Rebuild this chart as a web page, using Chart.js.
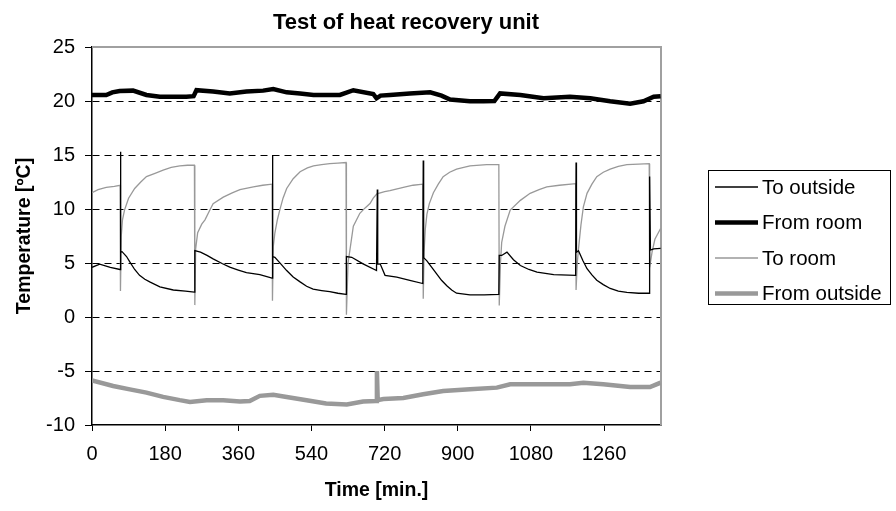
<!DOCTYPE html>
<html>
<head>
<meta charset="utf-8">
<script src="https://cdn.jsdelivr.net/npm/chart.js@4.4.1/dist/chart.umd.min.js"></script>
<style>
  html, body { margin: 0; padding: 0; background: #fff; }
  #wrap { width: 896px; height: 511px; position: relative; }
</style>
</head>
<body>
<div id="wrap"><canvas id="heatChart" width="896" height="511"></canvas></div>
<script>
// tick labels
var xTicks = [0, 180, 360, 540, 720, 900, 1080, 1260];
var yTicks = [-10, -5, 0, 5, 10, 15, 20, 25];

// To outside (thin black)
var toOutsideT = [0, 19, 45, 69, 70, 71, 74, 85, 93, 105, 117, 130, 142, 167, 200, 230, 252, 253, 267, 283, 298, 320, 339, 360, 380, 413, 443, 444, 445, 450, 465, 479, 495, 512, 528, 544, 565, 585, 605, 625, 626, 639, 667, 700, 702, 703, 709, 721, 750, 782, 814, 815, 816, 824, 836, 848, 860, 873, 885, 897, 930, 965, 1001, 1002, 1008, 1021, 1037, 1054, 1075, 1095, 1136, 1190, 1191, 1192, 1197, 1208, 1218, 1230, 1242, 1258, 1275, 1295, 1316, 1345, 1371, 1372, 1374, 1382, 1399];
var toOutsideV = [4.6, 4.9, 4.6, 4.4, 15.3, 6.0, 6.05, 5.6, 5.1, 4.4, 3.86, 3.5, 3.25, 2.8, 2.5, 2.4, 2.3, 6.14, 6.0, 5.7, 5.38, 4.95, 4.62, 4.35, 4.1, 3.92, 3.6, 15.0, 5.6, 5.53, 4.9, 4.3, 3.7, 3.25, 2.85, 2.58, 2.45, 2.34, 2.2, 2.1, 5.6, 5.53, 4.92, 4.3, 11.8, 4.9, 4.92, 3.86, 3.7, 3.4, 3.1, 14.5, 5.5, 5.2, 4.6, 4.0, 3.4, 2.9, 2.5, 2.2, 2.04, 2.05, 2.1, 5.7, 5.7, 6.0, 5.3, 4.77, 4.4, 4.16, 3.92, 3.86, 14.3, 6.0, 6.14, 5.2, 4.47, 3.9, 3.4, 3.0, 2.64, 2.4, 2.28, 2.2, 2.2, 13.0, 6.2, 6.3, 6.35];

// From room (thick black)
var fromRoomT = [0, 35, 50, 68, 101, 134, 167, 200, 232, 250, 257, 298, 339, 380, 421, 446, 479, 512, 545, 610, 643, 692, 700, 710, 733, 782, 832, 860, 881, 930, 963, 990, 1004, 1054, 1111, 1176, 1226, 1275, 1324, 1357, 1382, 1399];
var fromRoomV = [20.56, 20.56, 20.8, 20.93, 20.96, 20.56, 20.4, 20.4, 20.4, 20.45, 21.0, 20.87, 20.7, 20.87, 20.96, 21.1, 20.8, 20.7, 20.56, 20.56, 21.0, 20.65, 20.25, 20.5, 20.56, 20.7, 20.8, 20.5, 20.13, 19.97, 19.97, 20.0, 20.7, 20.56, 20.25, 20.4, 20.25, 19.97, 19.75, 19.97, 20.4, 20.45];

// To room (thin grey)
var toRoomT = [0, 15, 35, 55, 69, 70, 72, 75, 80, 90, 105, 120, 134, 155, 175, 195, 216, 235, 252, 253, 255, 260, 270, 278, 290, 298, 323, 345, 364, 397, 420, 443, 444, 446, 450, 456, 462, 470, 479, 495, 512, 530, 545, 565, 585, 605, 625, 626, 630, 635, 643, 659, 672, 684, 692, 701, 720, 733, 766, 790, 814, 815, 817, 820, 824, 830, 840, 852, 864, 880, 897, 930, 971, 1001, 1002, 1005, 1008, 1016, 1029, 1054, 1078, 1100, 1119, 1150, 1190, 1191, 1194, 1197, 1203, 1209, 1218, 1230, 1242, 1258, 1275, 1295, 1316, 1345, 1371, 1372, 1378, 1385, 1399];
var toRoomV = [11.5, 11.8, 12.0, 12.1, 12.2, 2.4, 7.5, 9.0, 9.9, 11.0, 11.9, 12.5, 13.0, 13.3, 13.6, 13.85, 14.0, 14.05, 14.05, 1.1, 6.3, 7.8, 8.6, 9.0, 9.9, 10.5, 11.1, 11.5, 11.8, 12.05, 12.2, 12.3, 1.5, 6.5, 7.8, 9.0, 9.9, 11.0, 11.9, 12.8, 13.45, 13.8, 14.0, 14.1, 14.2, 14.25, 14.3, 0.2, 5.0, 6.3, 8.4, 9.6, 10.1, 10.5, 11.0, 11.4, 11.6, 11.7, 12.0, 12.2, 12.3, 1.7, 6.0, 8.1, 9.5, 10.5, 11.5, 12.3, 13.0, 13.4, 13.7, 14.0, 14.1, 14.1, 1.06, 5.0, 6.9, 8.4, 9.9, 10.8, 11.45, 11.8, 12.05, 12.2, 12.35, 2.5, 5.0, 6.3, 8.5, 10.2, 11.45, 12.3, 13.0, 13.4, 13.7, 13.95, 14.1, 14.15, 14.2, 4.6, 6.0, 7.2, 8.2];

// From outside (thick grey)
var fromOutsideT = [0, 52, 93, 134, 175, 216, 241, 282, 323, 364, 388, 413, 446, 479, 528, 576, 627, 667, 699, 701, 703, 717, 766, 815, 864, 930, 996, 1029, 1095, 1176, 1209, 1258, 1324, 1373, 1399];
var fromOutsideV = [-5.87, -6.39, -6.7, -7.0, -7.4, -7.7, -7.86, -7.7, -7.7, -7.83, -7.77, -7.3, -7.2, -7.4, -7.7, -8.0, -8.1, -7.83, -7.77, -5.0, -7.7, -7.6, -7.5, -7.16, -6.85, -6.7, -6.54, -6.23, -6.23, -6.23, -6.08, -6.23, -6.48, -6.48, -6.08];

var seriesNames = ['To outside', 'From room', 'To room', 'From outside'];

function pts(ts, vs) {
  return ts.map(function(t, i) { return {x: t, y: vs[i]}; });
}

var FONT = "'Liberation Sans', Arial, sans-serif";

// frame (grey top/right), legend box and title
var framePlugin = {
  id: 'frame',
  beforeDatasetsDraw: function(chart) {
    var a = chart.chartArea, ctx = chart.ctx;
    ctx.save();
    ctx.strokeStyle = '#a0a0a0';
    ctx.lineWidth = 2;
    ctx.beginPath();
    ctx.moveTo(a.left, a.top);
    ctx.lineTo(a.right, a.top);
    ctx.lineTo(a.right, a.bottom);
    ctx.stroke();
    ctx.restore();
  },
  afterDraw: function(chart) {
    var ctx = chart.ctx;
    var ds = chart.data.datasets;
    ctx.save();
    ctx.strokeStyle = '#000';
    ctx.lineWidth = 1;
    ctx.strokeRect(708.5, 170.5, 182, 134);
    ctx.font = '20.5px ' + FONT;
    ctx.textBaseline = 'middle';
    ctx.fillStyle = '#000';
    for (var i = 0; i < ds.length; i++) {
      var y = 187 + i * 35.5;
      ctx.strokeStyle = ds[i].borderColor;
      ctx.lineWidth = ds[i].borderWidth;
      ctx.beginPath();
      ctx.moveTo(715, y);
      ctx.lineTo(758, y);
      ctx.stroke();
      ctx.fillText(ds[i].label, 762, y + 1);
    }
    // chart title
    ctx.font = 'bold 22px ' + FONT;
    ctx.textAlign = 'center';
    ctx.fillText('Test of heat recovery unit', 406, 23);
    ctx.restore();
  }
};

var ctx = document.getElementById('heatChart').getContext('2d');
var myChart = new Chart(ctx, {
  type: 'line',
  data: {
    datasets: [{
      label: seriesNames[0],
      data: pts(toOutsideT, toOutsideV),
      borderColor: '#000000',
      borderWidth: 1.3
    }, {
      label: seriesNames[1],
      data: pts(fromRoomT, fromRoomV),
      borderColor: '#000000',
      borderWidth: 4.5
    }, {
      label: seriesNames[2],
      data: pts(toRoomT, toRoomV),
      borderColor: '#999999',
      borderWidth: 1.3
    }, {
      label: seriesNames[3],
      data: pts(fromOutsideT, fromOutsideV),
      borderColor: '#999999',
      borderWidth: 4.5
    }]
  },
  options: {
    responsive: false,
    animation: false,
    parsing: false,
    elements: { point: { radius: 0 }, line: { tension: 0, fill: false } },
    layout: { padding: { top: 47, right: 235, left: 0, bottom: 0 } },
    plugins: { legend: { display: false }, tooltip: { enabled: false }, title: { display: false } },
    scales: {
      x: {
        type: 'linear',
        min: 0,
        max: 1400,
        afterBuildTicks: function(scale) {
          scale.ticks = xTicks.map(function(v) { return {value: v}; });
        },
        afterFit: function(scale) { scale.height = 86; },
        grid: { drawOnChartArea: false, tickLength: 6, tickColor: '#000', color: '#000' },
        border: { color: '#000', width: 1.5 },
        ticks: {
          color: '#000', font: { family: FONT, size: 20 }, padding: 11, maxRotation: 0, autoSkip: false,
          callback: function(v) { return String(v); }
        },
        title: { display: true, text: 'Time [min.]', color: '#000', font: { family: FONT, size: 19.5, weight: 'bold' }, padding: { bottom: 9 } }
      },
      y: {
        min: -10,
        max: 25,
        afterBuildTicks: function(scale) {
          scale.ticks = yTicks.map(function(v) { return {value: v}; });
        },
        afterFit: function(scale) { scale.width = 92; },
        grid: {
          color: function(c) { return (c.tick && (c.tick.value === 25 || c.tick.value === -10)) ? 'rgba(0,0,0,0)' : '#000'; },
          tickColor: '#000',
          tickLength: 7,
          lineWidth: 1
        },
        border: { color: '#000', width: 1.5, dash: [7, 5] },
        ticks: { color: '#000', font: { family: FONT, size: 20 }, padding: 10, callback: function(v) { return String(v); } },
        title: { display: true, text: 'Temperature [ºC]', color: '#000', font: { family: FONT, size: 19.5, weight: 'bold' }, padding: { top: 13 } }
      }
    }
  },
  plugins: [framePlugin]
});
</script>
</body>
</html>
